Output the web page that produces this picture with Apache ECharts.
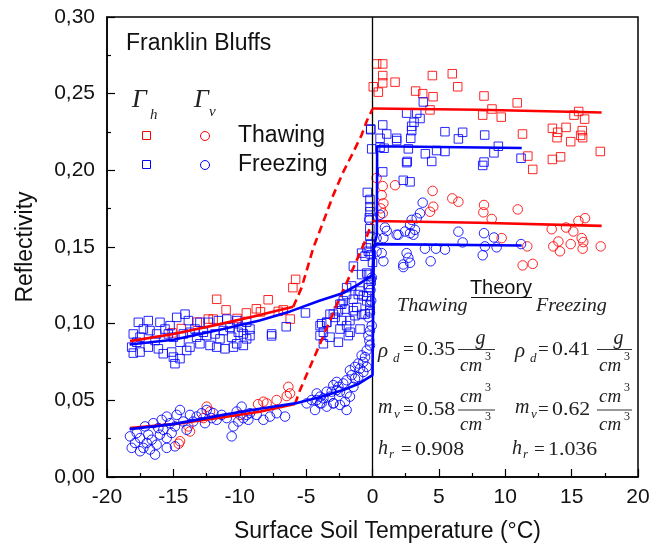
<!DOCTYPE html>
<html><head><meta charset="utf-8">
<script src="https://cdn.jsdelivr.net/npm/echarts@6/dist/echarts.min.js"></script>
<style>html,body{margin:0;padding:0;background:#fff}#c{width:660px;height:548px}</style>
</head><body><div id="c"></div><script>
const xTickLabels = ['-20','-15','-10','-5','0','5','10','15','20'];
const yTickLabels = ['0,00','0,05','0,10','0,15','0,20','0,25','0,30'];

// Gamma_h thawing (red squares)
const thawH = [[0.31,0.2694],[0.77,0.2694],[0.06,0.2545],[0.77,0.2618],[0.77,0.257],[0.44,0.251],[1.70,0.2575],[4.51,0.2618],[6.01,0.263],[6.42,0.2545],[3.25,0.2517],[3.78,0.250],[4.56,0.248],[4.33,0.2394],[8.4,0.2485],[9.0,0.240],[8.3,0.236],[9.7,0.2347],[10.9,0.244],[11.3,0.2237],[11.7,0.2093],[12.07,0.2006],[13.55,0.2274],[13.95,0.2248],[13.9,0.2213],[14.58,0.228],[14.93,0.2187],[15.53,0.2384],[15.18,0.236],[15.98,0.2334],[15.8,0.2259],[15.68,0.2228],[15.83,0.2213],[13.55,0.2071],[14.17,0.2088],[17.16,0.2123],
[-11.74,0.1159],[-7.86,0.1156],[-8.75,0.1097],[-8.44,0.1077],[-6.72,0.109],[-6.0,0.1235],[-5.79,0.1289],[-11.03,0.109],[-12.0,0.103],[-13.2,0.101],[-14.4,0.0968],[-10.2,0.1034],[-12.37,0.103],[-7.1,0.108],[-6.2,0.103],[-9.5,0.107],[-15.1,0.094]];
// Gamma_v thawing (red circles)
const thawV = [[0.77,0.1897],[1.7,0.1903],[0.69,0.1838],[0.82,0.1785],[0.62,0.1752],[0.77,0.172],[0.31,0.1950],[4.53,0.1866],[4.58,0.1763],[4.33,0.173],[6.01,0.1817],[6.47,0.1795],[8.4,0.1774],[8.35,0.1726],[8.98,0.1683],[10.94,0.1745],[9.73,0.1558],[11.66,0.1504],[11.31,0.138],[12.07,0.139],[13.5,0.1616],[13.62,0.1504],[14.12,0.1472],[14.0,0.1536],[14.58,0.1627],[15.13,0.1601],[15.51,0.167],[16.01,0.1688],[14.93,0.1519],[15.76,0.1558],[15.88,0.1532],[15.83,0.1489],[17.19,0.1504],
[-6.34,0.0588],[-6.21,0.0545],[-6.46,0.0528],[-7.97,0.048],[-8.22,0.0491],[-7.22,0.0502],[-9.98,0.0405],[-12.49,0.0459],[-12.24,0.0427],[-13.75,0.0297],[-13.87,0.033],[-14.5,0.0233],[-12.74,0.0384],[-8.62,0.0475],[-14.6,0.0217]];
// Gamma_h freezing (blue squares)
const frzH = [[-17.64,0.1009],[-16.89,0.102],[-16.01,0.1009],[-15.25,0.0987],[-14.75,0.1041],[-14.12,0.1062],[-13.87,0.102],[-13.0,0.1009],[-12.37,0.1009],[-11.61,0.102],[-10.98,0.103],[-10.23,0.102],[-9.48,0.1009],[-9.23,0.0965],
[-18.02,0.0933],[-17.51,0.0912],[-16.76,0.0955],[-16.26,0.0933],[-15.63,0.0965],[-15.0,0.0912],[-14.25,0.0933],[-13.75,0.0944],[-13.25,0.0912],[-12.49,0.0922],[-11.86,0.0933],[-11.24,0.0955],[-10.61,0.0912],[-10.11,0.0944],[-9.73,0.0933],[-9.23,0.0922],[-7.6,0.0933],
[-18.14,0.0847],[-18.02,0.0808],[-17.51,0.0815],[-16.89,0.0847],[-16.13,0.0836],[-15.76,0.0804],[-15.13,0.0815],[-15.0,0.0782],[-14.88,0.0739],[-14.5,0.0772],[-14.0,0.0825],[-13.0,0.0869],[-12.24,0.0858],[-11.74,0.0847],[-11.11,0.0836],[-10.23,0.0869],[-9.73,0.0858],[-9.48,0.0901],
[-17.76,0.0879],[-16.38,0.089],[-14.5,0.0879],[-13.37,0.0965],[-11.49,0.0901],[-10.73,0.0976],[-9.86,0.0976],[-15.38,0.0933],[-17.26,0.0965],[-12.74,0.0944],[-10.48,0.0847],[-13.75,0.0847],
[-3.95,0.0987],[-3.7,0.0944],[-3.45,0.1009],[-3.2,0.1062],[-2.82,0.1041],[-2.57,0.1084],[-2.32,0.102],[-1.95,0.0987],[-1.82,0.0922],[-2.57,0.0879],[-3.2,0.0912],[-3.95,0.0922],[-2.2,0.1149],[-1.44,0.1159],[-1.19,0.1106],[-1.32,0.1052],[-0.94,0.1213],[-0.69,0.1181],[-0.44,0.1149],[-0.31,0.1235],[-0.1,0.1278],[-0.31,0.1321],[-1.95,0.1235],[-2.32,0.1127],[-1.69,0.0944],[-3.7,0.0869],[-2.45,0.0965],[-0.56,0.1063],[-0.19,0.1084],
[-5.05,0.107],[-6.5,0.098],[-7.6,0.092],
[-1.44,0.1375],[-0.82,0.132],[-0.44,0.133],[-0.44,0.1494],[-0.31,0.1472],[-0.56,0.144],[-0.82,0.146],[-1.57,0.1246],[-1.95,0.119],[-1.07,0.119],[-2.45,0.1127],[-2.07,0.1095],[-1.44,0.1084],[-2.95,0.1062],[-3.45,0.1008],[-3.83,0.1],[-1.7,0.102],[-0.82,0.106],[-0.94,0.0965],[-0.19,0.112],[-0.44,0.118],[-0.31,0.1256],
[-0.06,0.2140],[0.57,0.2151],[0.87,0.2144],[1.82,0.2194],[2.7,0.214],[2.57,0.205],[2.32,0.1935],[2.83,0.1925],[0.77,0.199],[-0.39,0.1856],[-0.19,0.181],[-0.19,0.1763],[-0.19,0.173],[-0.24,0.169],[-0.2,0.162],[-0.2,0.157],[-0.13,0.227],[-0.15,0.152],[-0.1,0.145],[0.0,0.14],
[3.83,0.2446],[2.57,0.2373],[3.33,0.2373],[3.58,0.2338],[3.13,0.2313],[2.95,0.2287],[2.95,0.2259],[2.88,0.2209],[0.77,0.2296],[1.07,0.2237],[0.57,0.2209],[-0.14,0.2265],[1.82,0.2209],[5.46,0.2252],[6.79,0.2248],[6.47,0.2205],[8.45,0.223],[3.98,0.2108],[4.46,0.2058],[2.62,0.2058],[4.83,0.2129],[5.46,0.2123],[9.15,0.2114],[9.48,0.2157],[8.4,0.2054],[8.3,0.2032],[11.19,0.2079]];
// Gamma_v freezing (blue circles)
const frzV = [[-18.14,0.0190],[-17.89,0.0222],[-17.51,0.0254],[-17.51,0.0168],[-17.26,0.0190],[-17.01,0.0222],[-16.89,0.0276],[-16.63,0.0243],[-16.26,0.0211],[-16.38,0.0146],[-16.01,0.0276],[-15.76,0.0308],[-15.5,0.0254],[-15.13,0.0287],[-14.88,0.0200],[-15.25,0.0351],[-14.75,0.0405],[-14.25,0.0362],[-13.75,0.0405],[-14.0,0.0308],[-13.25,0.0394],[-12.87,0.0416],[-12.49,0.0437],[-11.99,0.0416],[-11.74,0.0373],[-11.36,0.0405],[-10.98,0.0384],[-10.61,0.0265],[-10.48,0.0330],[-10.11,0.0362],[-9.73,0.0384],[-9.35,0.0373],[-9.23,0.0416],[-8.72,0.0405],[-8.22,0.0373],[-7.72,0.0394],[-7.22,0.0416],[-6.59,0.0394],
[-17.76,0.0287],[-17.14,0.0330],[-16.51,0.0351],[-15.88,0.0373],[-15.5,0.0394],[-14.5,0.0437],[-13.5,0.0362],[-12.62,0.0351],[-12.12,0.0384],[-10.23,0.0427],[-9.86,0.0459],[-9.48,0.0405],[-16.13,0.0319],[-14.88,0.0330],[-16.76,0.0179],[-15.5,0.0190],[-18.27,0.0265],
[-0.19,0.0955],[-0.31,0.0922],[-0.24,0.089],[-0.19,0.0858],[-0.44,0.0825],[-0.56,0.0782],[-0.82,0.0793],[-0.69,0.075],[-1.07,0.074],[-0.94,0.0707],[-1.32,0.0718],[-1.7,0.0696],[-1.57,0.0664],[-1.32,0.0642],[-1.95,0.0631],[-2.2,0.061],[-2.7,0.062],[-2.57,0.0588],[-2.95,0.0599],[-3.08,0.0556],[-2.45,0.0556],[-1.95,0.0545],[-1.7,0.0524],[-2.07,0.0491],[-2.45,0.047],[-2.95,0.0481],[-3.45,0.0459],[-3.83,0.0481],[-4.2,0.0502],[-4.33,0.0437],[-3.95,0.0524],[-1.44,0.0588],[-1.07,0.0653],[-0.69,0.0685],[-0.44,0.0718],
[-4.58,0.0502],[-4.2,0.0545],[-3.95,0.048],[-3.7,0.0513],[-3.45,0.0556],[-3.2,0.0524],[-2.95,0.048],[-2.7,0.0567],[-1.95,0.0437],[-4.96,0.048],
[-0.31,0.1041],[-0.19,0.1073],[-0.06,0.0987],[-0.1,0.115],[-0.15,0.122],[-0.05,0.13],
[-0.24,0.1677],[0.57,0.171],[0.94,0.1627],[0.82,0.1558],[1.82,0.158],[0.69,0.146],[0.82,0.1407],[2.57,0.146],[2.7,0.143],[2.32,0.1386],
[3.78,0.1789],[3.58,0.172],[3.33,0.1688],[2.95,0.1677],[2.83,0.1644],[3.2,0.1612],[2.83,0.159],[3.08,0.158],[2.45,0.1601],[1.95,0.158],[1.07,0.1605],[0.31,0.1558],[0.31,0.147],[2.32,0.1369],[2.83,0.1397],[4.38,0.1407],[3.95,0.1489],[4.78,0.1489],[5.46,0.1483],[6.47,0.16],[6.79,0.153],[8.4,0.159],[8.47,0.1504],[8.3,0.1446],[9.15,0.1562],[9.35,0.1498],[11.19,0.1519]];

// Theory curves
const thawHSolid = [[-18.27,0.0886],[-15.0,0.0933],[-11.24,0.1002],[-8.72,0.1052],[-7.22,0.1084],[-5.97,0.1110]];
const thawHDash = [[-5.97,0.111],[-5.34,0.1235],[-4.46,0.1494],[-3.7,0.1666],[-2.95,0.184],[-2.2,0.199],[-1.44,0.212],[-0.82,0.223],[-0.44,0.232],[0,0.240]];
const thawHFlat = [[0,0.2403],[8,0.2395],[17.26,0.2377]];
const thawVSolid = [[-18.27,0.0319],[-15,0.0345],[-11.24,0.039],[-8.5,0.0425],[-5.84,0.0476]];
const thawVDash = [[-5.84,0.0476],[-5.46,0.0567],[-4.71,0.0718],[-3.95,0.0869],[-3.2,0.102],[-2.57,0.1149],[-1.44,0.1364],[-0.56,0.1537],[-0.06,0.1655]];
const thawVFlat = [[0,0.167],[8,0.1658],[17.26,0.1638]];
const frzHTheory = [[-18.3,0.0864],[-15,0.0895],[-11.24,0.0965],[-8.5,0.102],[-6.2,0.108],[-4,0.115],[-2.2,0.120],[-1,0.126],[0,0.1317],[0.1,0.15],[0.33,0.158],[0.35,0.2157],[11.24,0.2146]];
const frzVTheory = [[-18.3,0.0312],[-15,0.0345],[-11.24,0.0405],[-8.5,0.0445],[-5.84,0.048],[-4,0.052],[-2.2,0.0567],[-1,0.061],[0,0.0664],[0.1,0.150],[0.35,0.1519],[11.24,0.151]];
const zeroLine = [[0,0],[0,0.30]];

const RED = '#ff0000', BLUE = '#0000ff';
function scat(name, data, symbol, color, size) {
  return {name, type:'scatter', data, symbol, symbolSize:size, z:3,
    itemStyle:{color:'rgba(0,0,0,0)', borderColor:color, borderWidth:1, opacity:0.85}};
}
function line(name, data, color, type, w) {
  return {name, type:'line', data, showSymbol:false, symbol:'none', z:5,
    lineStyle:{color, width:w||2.6, type:type||'solid'}};
}
const SERIF = 'Liberation Serif', SANS = 'Liberation Sans';
function T(x, y, text, o) {
  o = o || {};
  return {type:'text', x, y, z:100, scaleX:o.sx||1,
    style:{text, fill:o.fill||'#222', fontSize:o.fs||20, fontFamily:o.ff||SERIF,
      fontStyle:o.it?'italic':'normal',
      align:o.align||'left', verticalAlign:'middle'}};
}
function L(x1,y1,x2,y2,c,w){return {type:'line', z:100, shape:{x1,y1,x2,y2}, style:{stroke:c||'#333', lineWidth:w||1}};}

const g = [];
g.push(T(126, 44, 'Franklin Bluffs', {ff:SANS, fs:23, fill:'#111'}));
g.push(T(132, 100, 'Γ', {it:true, fs:26}));
g.push(T(150, 115, 'h', {it:true, fs:15}));
g.push(T(194, 100, 'Γ', {it:true, fs:26}));
g.push(T(209, 112, 'v', {it:true, fs:15}));
g.push({type:'rect', z:100, shape:{x:142.5, y:131.5, width:8, height:8}, style:{fill:'none', stroke:RED, lineWidth:1}});
g.push({type:'circle', z:100, shape:{cx:205, cy:136, r:4.5}, style:{fill:'none', stroke:RED, lineWidth:1}});
g.push({type:'rect', z:100, shape:{x:142.5, y:160.5, width:8, height:8}, style:{fill:'none', stroke:BLUE, lineWidth:1}});
g.push({type:'circle', z:100, shape:{cx:205, cy:165, r:4.5}, style:{fill:'none', stroke:BLUE, lineWidth:1}});
g.push(T(238, 136, 'Thawing', {ff:SANS, fs:23, fill:'#111'}));
g.push(T(238, 165, 'Freezing', {ff:SANS, fs:23, fill:'#111'}));
// Theory box
g.push(T(501, 288, 'Theory', {ff:SANS, fs:20, align:'center', fill:'#111'}));
g.push(L(471, 297.5, 532, 297.5, '#111', 1));
g.push(T(397, 306, 'Thawing', {it:true, fs:18, sx:1.12}));
g.push(T(536, 306, 'Freezing', {it:true, fs:18, sx:1.12}));
function col(L0, eqX, numX, barX1, barX2, dens, mvs, hx, heqX, hnumX, hval) {
  const bc = (barX1+barX2)/2;
  g.push(T(L0, 351, 'ρ', {it:true, fs:21}));
  g.push(T(L0+15, 359, 'd', {it:true, fs:13}));
  g.push(T(eqX, 350, '=', {fs:19}));
  g.push(T(numX, 350, dens, {fs:19, sx:1.15}));
  g.push(L(barX1, 349.5, barX2, 349.5));
  g.push(T(bc+4, 339, 'g', {it:true, fs:20, align:'center'}));
  g.push(T(barX1+2, 366, 'cm', {it:true, fs:19}));
  g.push(T(barX1+27, 357, '3', {fs:12}));
  g.push(T(L0, 408, 'm', {it:true, fs:20}));
  g.push(T(L0+16, 415, 'v', {it:true, fs:13}));
  g.push(T(eqX, 410, '=', {fs:19}));
  g.push(T(numX, 410, mvs, {fs:19, sx:1.15}));
  g.push(L(barX1, 410, barX2, 410));
  g.push(T(barX1+2, 397, 'cm', {it:true, fs:19}));
  g.push(T(barX1+27, 388, '3', {fs:12}));
  g.push(T(barX1+2, 425, 'cm', {it:true, fs:19}));
  g.push(T(barX1+27, 417, '3', {fs:12}));
  g.push(T(hx, 449, 'h', {it:true, fs:20}));
  g.push(T(hx+11, 455, 'r', {it:true, fs:13}));
  g.push(T(heqX, 450, '=', {fs:19}));
  g.push(T(hnumX, 450, hval, {fs:19, sx:1.15}));
}
col(378, 403, 417, 458, 495, '0.35', '0.58', 378, 401, 415, '0.908');
col(515, 538, 552, 597, 632, '0.41', '0.62', 512, 534, 548, '1.036');

const chart = echarts.init(document.getElementById('c'));
chart.setOption({
  animation:false,
  backgroundColor:'#fff',
  grid:{left:107, right:22, top:17, bottom:67, show:true, borderColor:'#000', borderWidth:1.5, backgroundColor:'transparent'},
  xAxis:{type:'value', min:-20, max:20, interval:5,
    name:'Surface Soil Temperature (°C)', nameLocation:'middle', nameGap:43,
    nameTextStyle:{fontSize:23, fontFamily:SANS, color:'#111', padding:[0,0,0,30]},
    axisLine:{onZero:false, lineStyle:{color:'#000', width:1.5}},
    axisTick:{inside:true, length:8, lineStyle:{color:'#000', width:1.2}},
    minorTick:{show:true, splitNumber:2, length:4, lineStyle:{color:'#000', width:1.2}},
    splitLine:{show:false},
    axisLabel:{fontSize:21, fontFamily:SANS, color:'#111', margin:10,
      formatter:v=>xTickLabels[Math.round((v+20)/5)]}},
  yAxis:{type:'value', min:0, max:0.30, interval:0.05,
    name:'Reflectivity', nameLocation:'middle', nameGap:70,
    nameTextStyle:{fontSize:23, fontFamily:SANS, color:'#111'},
    axisLine:{onZero:false, lineStyle:{color:'#000', width:1.5}},
    axisTick:{inside:true, length:8, lineStyle:{color:'#000', width:1.2}},
    minorTick:{show:true, splitNumber:2, length:4, lineStyle:{color:'#000', width:1.2}},
    splitLine:{show:false},
    axisLabel:{fontSize:21, fontFamily:SANS, color:'#111', margin:12,
      formatter:v=>yTickLabels[Math.round(v/0.05)]}},
  series:[
    line('zero', zeroLine, '#000', 'solid', 1.3),
    scat('Γh Thawing', thawH, 'rect', RED, 8.5),
    scat('Γv Thawing', thawV, 'circle', RED, 9.5),
    scat('Γh Freezing', frzH, 'rect', BLUE, 8.5),
    scat('Γv Freezing', frzV, 'circle', BLUE, 9.5),
    line('Theory Γh thaw', thawHSolid, RED),
    line('Theory Γh thaw dash', thawHDash, RED, [8,5]),
    line('Theory Γh thaw flat', thawHFlat, RED),
    line('Theory Γv thaw', thawVSolid, RED),
    line('Theory Γv thaw dash', thawVDash, RED, [8,5]),
    line('Theory Γv thaw flat', thawVFlat, RED),
    line('Theory Γh frz', frzHTheory, BLUE),
    line('Theory Γv frz', frzVTheory, BLUE)
  ],
  graphic: g
});
</script></body></html>
